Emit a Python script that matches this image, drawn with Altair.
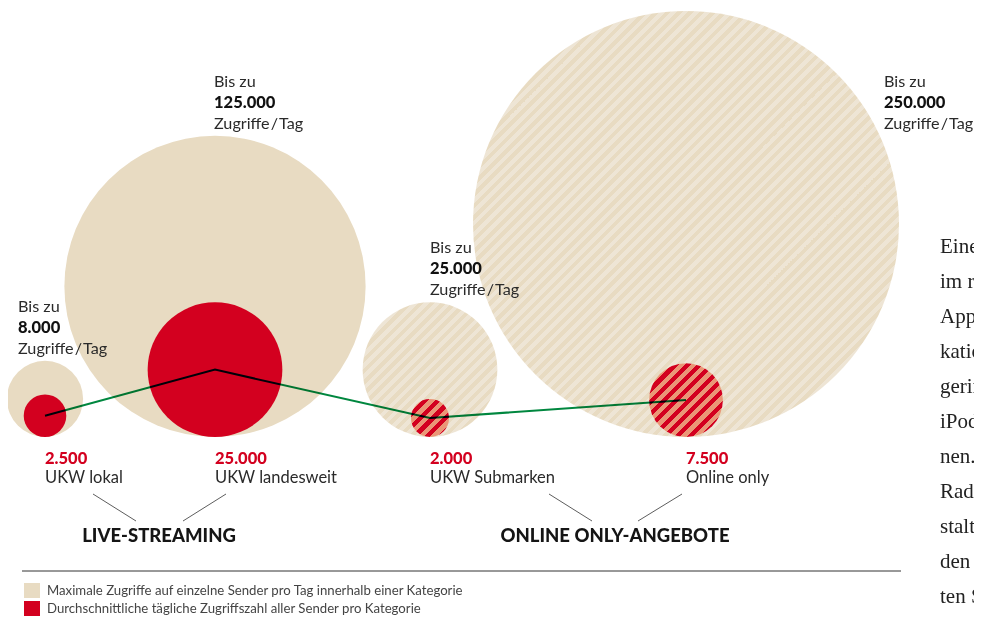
import math
import altair as alt
import pandas as pd

# ---------------- data ----------------
categories = ["UKW lokal", "UKW landesweit", "UKW Submarken", "Online only"]
max_values = [8000, 125000, 25000, 250000]
avg_values = [2500, 25000, 2000, 7500]
max_labels = ["8.000", "125.000", "25.000", "250.000"]
avg_labels = ["2.500", "25.000", "2.000", "7.500"]
hatched = [False, False, True, True]
groups = ["LIVE-STREAMING", "ONLINE ONLY-ANGEBOTE"]
legend_items = [
    "Maximale Zugriffe auf einzelne Sender pro Tag innerhalb einer Kategorie",
    "Durchschnittliche tägliche Zugriffszahl aller Sender pro Kategorie",
]
body_text = ["Eine", "im r", "App", "katio", "gerin", "iPod", "nen.", "Rad", "stalt", "den", "ten S"]

# ---------------- layout / style ----------------
VMAX = 250000
MAX_D = 426            # diameter of the largest bubble in px
BASE_Y = 437           # common bottom line of all bubbles
center_x = [45, 215, 430, 686]
top_label_x = [18, 214, 430, 884]
top_label_y = [307, 82, 248, 82]
group_label_x = [159, 615]
connectors = [  # x, y, x2, y2
    (93, 494, 136, 521), (226, 494, 183, 521),
    (549, 494, 592, 521), (682, 494, 638, 521),
]
BEIGE = "#E8DBC2"
BEIGE_LIGHT = "#EEE5D5"
RED = "#D3001F"
SALMON = "#EA9677"
GREEN = "#00873F"
TEXT = "#2a2a2a"
SANS = "Lato"
SERIF = "Liberation Serif"

W, H = 966, 608
xs = alt.Scale(domain=[8, 8 + W], nice=False, zero=False)
ys = alt.Scale(domain=[8 + H, 8], nice=False, zero=False)
ss = alt.Scale(type="linear", domain=[0, VMAX], range=[0, MAX_D ** 2])


def X(f):
    return alt.X(f, type="quantitative", scale=xs, axis=None)


def Y(f):
    return alt.Y(f, type="quantitative", scale=ys, axis=None)


bubbles = pd.DataFrame({
    "cat": categories,
    "vmax": max_values,
    "vavg": avg_values,
    "cx": center_x,
    "hatched": hatched,
    "idx": range(len(categories)),
})

r_expr = lambda field: f"{BASE_Y} - {MAX_D / 2} * sqrt(datum.{field} / {VMAX})"

base = alt.Chart(bubbles).transform_calculate(
    ymax=r_expr("vmax"), yavg=r_expr("vavg")
)


def stripes(c1, c2, d, period=8.0):
    n = max(1, round(d * math.sqrt(2) / period))
    stops = []
    for i in range(n):
        a, m, b = i / n, (i + 0.5) / n, (i + 1) / n
        stops += [
            alt.GradientStop(offset=a, color=c1),
            alt.GradientStop(offset=m, color=c1),
            alt.GradientStop(offset=m, color=c2),
            alt.GradientStop(offset=b, color=c2),
        ]
    return alt.LinearGradient(gradient="linear", stops=stops, x1=0, y1=0, x2=1, y2=1)


layers = []

layers.append(
    base.transform_filter("!datum.hatched").mark_circle(color=BEIGE, opacity=1).encode(
        x=X("cx"), y=Y("ymax"), size=alt.Size("vmax:Q", scale=ss, legend=None)
    )
)

for i, h in enumerate(hatched):
    if h:
        d = MAX_D * math.sqrt(max_values[i] / VMAX)
        layers.append(
            base.transform_filter(f"datum.idx == {i}").mark_circle(
                fill=stripes(BEIGE, BEIGE_LIGHT, d), opacity=1, strokeWidth=0
            ).encode(x=X("cx"), y=Y("ymax"), size=alt.Size("vmax:Q", scale=ss, legend=None))
        )

layers.append(
    base.transform_filter("!datum.hatched").mark_circle(color=RED, opacity=1).encode(
        x=X("cx"), y=Y("yavg"), size=alt.Size("vavg:Q", scale=ss, legend=None)
    )
)

for i, h in enumerate(hatched):
    if h:
        d = MAX_D * math.sqrt(avg_values[i] / VMAX)
        layers.append(
            base.transform_filter(f"datum.idx == {i}").mark_circle(
                fill=stripes(RED, SALMON, d, 8.5), opacity=1, strokeWidth=0
            ).encode(x=X("cx"), y=Y("yavg"), size=alt.Size("vavg:Q", scale=ss, legend=None))
        )

layers.append(
    base.mark_line(color=GREEN, strokeWidth=2, blend="multiply").encode(
        x=X("cx"), y=Y("yavg"), order="idx:Q"
    )
)

# ---------------- labels ----------------
top_rows = []
for i in range(len(categories)):
    top_rows.append({"x": top_label_x[i], "y": top_label_y[i], "t": "Bis zu", "w": "r"})
    top_rows.append({"x": top_label_x[i], "y": top_label_y[i] + 21, "t": max_labels[i], "w": "b"})
    top_rows.append({"x": top_label_x[i], "y": top_label_y[i] + 42, "t": "Zugriffe\u200a/\u200aTag", "w": "r"})
top_df = pd.DataFrame(top_rows)

layers.append(
    alt.Chart(top_df[top_df.w == "r"]).mark_text(
        align="left", baseline="middle", font=SANS, fontSize=16.2, color=TEXT
    ).encode(x=X("x"), y=Y("y"), text="t:N")
)
layers.append(
    alt.Chart(top_df[top_df.w == "b"]).mark_text(
        align="left", baseline="middle", font=SANS, fontSize=16.5, fontWeight=900, color="#111111"
    ).encode(x=X("x"), y=Y("y"), text="t:N")
)

bot_df = pd.DataFrame({"x": center_x, "v": avg_labels, "c": categories})
bot_df["yv"] = BASE_Y + 22
bot_df["yc"] = BASE_Y + 41
layers.append(
    alt.Chart(bot_df).mark_text(
        align="left", baseline="middle", font=SANS, fontSize=16.5, fontWeight=900, color=RED
    ).encode(x=X("x"), y=Y("yv"), text="v:N")
)
layers.append(
    alt.Chart(bot_df).mark_text(
        align="left", baseline="middle", font=SANS, fontSize=16.5, color=TEXT
    ).encode(x=X("x"), y=Y("yc"), text="c:N")
)

conn_df = pd.DataFrame(connectors, columns=["x", "y", "x2", "y2"])
layers.append(
    alt.Chart(conn_df).mark_rule(color="#333333", strokeWidth=0.8).encode(
        x=X("x"), y=Y("y"), x2="x2", y2="y2"
    )
)

grp_df = pd.DataFrame({"x": group_label_x, "g": groups, "y": [536, 536]})
layers.append(
    alt.Chart(grp_df).mark_text(
        align="center", baseline="middle", font=SANS, fontSize=18.5, fontWeight=900, color="#151515"
    ).encode(x=X("x"), y=Y("y"), text="g:N")
)

# separator + legend
layers.append(
    alt.Chart(pd.DataFrame({"x": [22], "x2": [901], "y": [571]})).mark_rule(
        color="#333333", strokeWidth=1
    ).encode(x=X("x"), x2="x2", y=Y("y"))
)
leg_df = pd.DataFrame({
    "t": legend_items,
    "col": [BEIGE, RED],
    "y": [583, 601],
    "y2": [598, 616],
    "ty": [591, 609],
    "x": [24, 24],
    "x2": [40, 40],
    "tx": [47, 47],
})
layers.append(
    alt.Chart(leg_df).mark_rect().encode(
        x=X("x"), x2="x2", y=Y("y"), y2="y2",
        color=alt.Color("col:N", scale=None),
    )
)
layers.append(
    alt.Chart(leg_df).mark_text(
        align="left", baseline="middle", font=SANS, fontSize=13.2, color="#444444"
    ).encode(x=X("tx"), y=Y("ty"), text="t:N")
)

# body text of the page, cropped at the right edge as in the reference
body_df = pd.DataFrame({"t": body_text})
body_df["y"] = [247 + 35 * i for i in range(len(body_text))]
body_df["x"] = 940
layers.append(
    alt.Chart(body_df).mark_text(
        align="left", baseline="middle", font=SERIF, fontSize=21, color="#222222"
    ).encode(x=X("x"), y=Y("y"), text="t:N")
)

chart = alt.layer(*layers).properties(
    width=W, height=H, autosize="none", padding=0
).configure_view(stroke=None)

chart.save("out.html", embed_options={"renderer": "svg", "actions": False})
